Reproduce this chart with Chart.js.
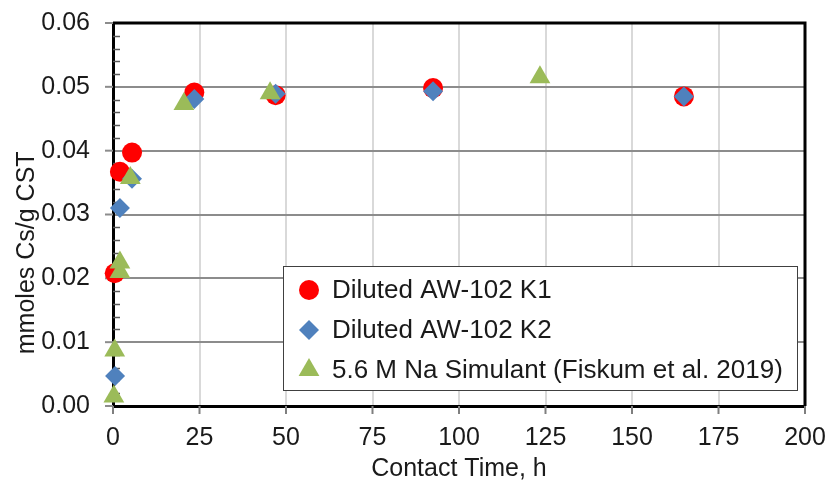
<!DOCTYPE html>
<html>
<head>
<meta charset="utf-8">
<script src="https://cdn.jsdelivr.net/npm/chart.js@4.4.0/dist/chart.umd.min.js"></script>
<style>
  html, body { margin: 0; padding: 0; background: #fff; }
  #wrap { width: 829px; height: 485px; }
</style>
</head>
<body>
<div id="wrap"><canvas id="myChart"></canvas></div>
<script>
// contact time (h) and loading (mmoles Cs / g CST)
const k1Time = [0.5, 2, 5.5, 23.5, 47, 92.5, 165]
const k1Cs = [0.0208, 0.0367, 0.0397, 0.0491, 0.0487, 0.0498, 0.0485]
const k2Time = [0.6, 2, 5.5, 23.5, 47, 92.5, 165]
const k2Cs = [0.0047, 0.0310, 0.0356, 0.0481, 0.0489, 0.0493, 0.0485]
const simTime = [0.25, 0.5, 2, 2, 5, 20.5, 45.4, 123.4]
const simCs = [0.0015, 0.0087, 0.0210, 0.0225, 0.0357, 0.0473, 0.0490, 0.0515]
const xTicks = [0, 25, 50, 75, 100, 125, 150, 175, 200]
const yTicks = [0, 0.01, 0.02, 0.03, 0.04, 0.05, 0.06]
const seriesNames = ['Diluted AW-102 K1', 'Diluted AW-102 K2', '5.6 M Na Simulant (Fiskum et al. 2019)']
const yTitle = 'mmoles Cs/g CST'

const FONT = 'Liberation Sans, Arial, sans-serif'

function toPoints(xs, ys) {
    return xs.map((x, i) => ({x: x, y: ys[i]}))
}

// box, ticks, y title and legend drawn by hand
const framePlugin = {
    id: 'frame',
    beforeDatasetsDraw(chart) {
        const ctx = chart.ctx
        const a = chart.chartArea
        const x = chart.scales.x
        const y = chart.scales.y
        ctx.save()
        // minor y ticks, inside
        ctx.strokeStyle = '#595959'
        ctx.lineWidth = 1.5
        for (let v = 0.002; v < 0.06; v += 0.002) {
            if (Math.abs(v * 100 - Math.round(v * 100)) < 1e-6) continue
            const py = Math.round(y.getPixelForValue(v)) + 0.5
            ctx.beginPath()
            ctx.moveTo(a.left, py)
            ctx.lineTo(a.left + 7, py)
            ctx.stroke()
        }
        // major ticks, outside
        ctx.lineWidth = 2
        ctx.strokeStyle = '#8c8c8c'
        yTicks.forEach(v => {
            const py = y.getPixelForValue(v)
            ctx.beginPath()
            ctx.moveTo(a.left - 8, py)
            ctx.lineTo(a.left, py)
            ctx.stroke()
        })
        ctx.strokeStyle = '#7f7f7f'
        xTicks.forEach(v => {
            const px = x.getPixelForValue(v)
            ctx.beginPath()
            ctx.moveTo(px, a.bottom)
            ctx.lineTo(px, a.bottom + 8)
            ctx.stroke()
        })
        ctx.strokeStyle = '#000'
        ctx.lineWidth = 3
        ctx.beginPath()
        ctx.moveTo(a.left, a.top)
        ctx.lineTo(a.right, a.top)
        ctx.lineTo(a.right, a.bottom)
        ctx.stroke()

        // y axis title, sits a little below the plot centre
        ctx.translate(34, y.getPixelForValue(0.024))
        ctx.rotate(-Math.PI / 2)
        ctx.fillStyle = '#1a1a1a'
        ctx.font = '25px ' + FONT
        ctx.textAlign = 'center'
        ctx.textBaseline = 'alphabetic'
        ctx.fillText(yTitle, 0, 0)
        ctx.restore()
    },
    afterDraw(chart) {
        const ctx = chart.ctx
        ctx.save()
        ctx.fillStyle = '#fff'
        ctx.strokeStyle = '#404040'
        ctx.lineWidth = 1
        ctx.fillRect(283.5, 266.5, 514, 124)
        ctx.strokeRect(283.5, 266.5, 514, 124)
        const rows = [290, 330, 370]
        chart.data.datasets.forEach((ds, i) => {
            ctx.fillStyle = ds.backgroundColor
            ctx.strokeStyle = ds.borderColor
            Chart.helpers.drawPoint(ctx, {pointStyle: ds.pointStyle, radius: ds.pointRadius, borderWidth: 0}, 309, rows[i])
            ctx.fillStyle = '#1a1a1a'
            ctx.font = '26px ' + FONT
            ctx.textBaseline = 'middle'
            ctx.textAlign = 'left'
            ctx.fillText(ds.label, 332, rows[i] + 1)
        })
        ctx.restore()
    }
}

new Chart('myChart', {
    type: 'scatter',
    data: {
        datasets: [{
            label: seriesNames[0],
            data: toPoints(k1Time, k1Cs),
            pointStyle: 'circle',
            pointRadius: 10,
            backgroundColor: '#ff0000',
            borderColor: '#ff0000',
            borderWidth: 0,
            order: 3,
            clip: false
        }, {
            label: seriesNames[1],
            data: toPoints(k2Time, k2Cs),
            pointStyle: 'rectRot',
            pointRadius: 10,
            backgroundColor: '#4f81bd',
            borderColor: '#4f81bd',
            borderWidth: 0,
            order: 2,
            clip: false
        }, {
            label: seriesNames[2],
            data: toPoints(simTime, simCs),
            pointStyle: 'triangle',
            pointRadius: 12,
            backgroundColor: '#9bbb59',
            borderColor: '#9bbb59',
            borderWidth: 0,
            order: 1,
            clip: false
        }]
    },
    options: {
        responsive: true,
        maintainAspectRatio: false,
        animation: false,
        layout: {padding: {top: 23, right: 24, left: 0, bottom: 0}},
        plugins: {
            legend: {display: false},
            tooltip: {enabled: false}
        },
        scales: {
            x: {
                type: 'linear',
                min: 0,
                max: 200,
                afterFit: s => { s.height = 79 },
                afterBuildTicks: s => { s.ticks = xTicks.map(v => ({value: v})) },
                ticks: {
                    color: '#1a1a1a',
                    font: {family: FONT, size: 25},
                    padding: 1,
                    maxRotation: 0
                },
                grid: {color: '#d9d9d9', lineWidth: 2, tickLength: 16, tickColor: 'rgba(0,0,0,0)'},
                border: {color: '#000', width: 3},
                title: {
                    display: true,
                    text: 'Contact Time, h',
                    color: '#1a1a1a',
                    font: {family: FONT, size: 25},
                    padding: {top: 0, bottom: 1}
                }
            },
            y: {
                type: 'linear',
                min: 0,
                max: 0.06,
                afterFit: s => { s.width = 113 },
                afterBuildTicks: s => { s.ticks = yTicks.map(v => ({value: v})) },
                ticks: {
                    color: '#1a1a1a',
                    font: {family: FONT, size: 25},
                    padding: 1,
                    callback: v => v.toFixed(2)
                },
                grid: {color: '#8c8c8c', lineWidth: 2, tickLength: 22, tickColor: 'rgba(0,0,0,0)'},
                border: {color: '#000', width: 3},
                title: {display: false}
            }
        }
    },
    plugins: [framePlugin]
});
</script>
</body>
</html>
